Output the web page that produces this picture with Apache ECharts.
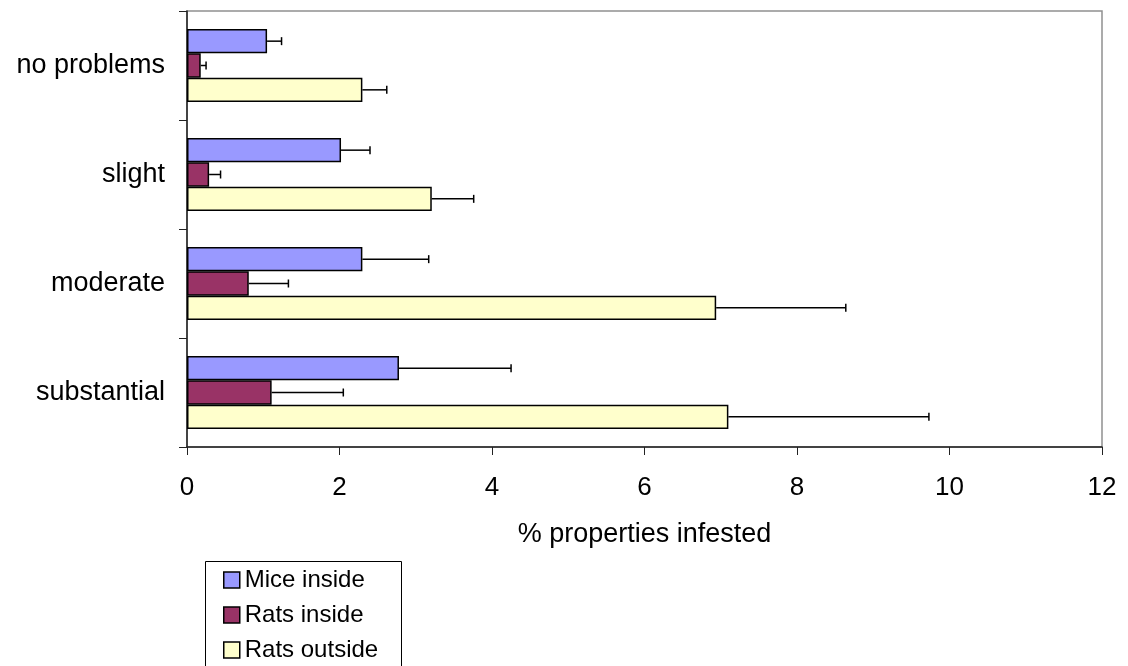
<!DOCTYPE html>
<html>
<head>
<meta charset="utf-8">
<script src="https://cdn.jsdelivr.net/npm/echarts@6/dist/echarts.min.js"></script>
<style>
html,body{margin:0;padding:0;background:#fff;}
#chart{width:1128px;height:666px;}
</style>
</head>
<body>
<div id="chart"></div>
<script>
var categories = ['no problems', 'slight', 'moderate', 'substantial'];
var seriesNames = ['Mice inside', 'Rats inside', 'Rats outside'];
var miceInside = [1.05, 2.02, 2.30, 2.78];
var ratsInside = [0.18, 0.29, 0.81, 1.11];
var ratsOutside = [2.30, 3.21, 6.94, 7.10];
var miceInsideErr = [1.24, 2.40, 3.17, 4.25];
var ratsInsideErr = [0.25, 0.44, 1.33, 2.05];
var ratsOutsideErr = [2.62, 3.76, 8.64, 9.73];
var colors = ['#9999FF', '#993366', '#FFFFCC'];

var values = [miceInside, ratsInside, ratsOutside];
var errs = [miceInsideErr, ratsInsideErr, ratsOutsideErr];
var catGap = 0.33;

var errData = [];
for (var s = 0; s < 3; s++) {
  for (var c = 0; c < categories.length; c++) {
    errData.push([values[s][c], c, errs[s][c], s]);
  }
}

var font = 'Liberation Sans, Arial, sans-serif';
var series = [];
for (var i = 0; i < 3; i++) {
  series.push({
    name: seriesNames[i],
    type: 'bar',
    data: values[i],
    barGap: '0%',
    barCategoryGap: '33%',
    itemStyle: { color: colors[i], borderColor: '#000', borderWidth: 1.5 },
    z: 2
  });
}
series.push({
  type: 'custom',
  name: 'err',
  data: errData,
  z: 3,
  silent: true,
  encode: { x: [0, 2], y: 1 },
  renderItem: function (params, api) {
    var v = api.value(0), cat = api.value(1), e = api.value(2), s = api.value(3);
    var center = api.coord([v, cat]);
    var band = api.size([0, 1])[1];
    var barW = band * (1 - catGap) / 3;
    var y = center[1] - band * (1 - catGap) / 2 + barW * s + barW / 2;
    var end = api.coord([e, cat]);
    var st = { stroke: '#000', lineWidth: 1.5 };
    return {
      type: 'group',
      children: [
        { type: 'line', shape: { x1: center[0], y1: y, x2: end[0], y2: y }, style: st },
        { type: 'line', shape: { x1: end[0], y1: y - 4, x2: end[0], y2: y + 4 }, style: st }
      ]
    };
  }
});

var chart = echarts.init(document.getElementById('chart'));
chart.setOption({
  animation: false,
  backgroundColor: '#fff',
  textStyle: { fontFamily: font },
  grid: {
    left: 187, right: 26, top: 11, bottom: 219,
    show: true, borderColor: '#909090', borderWidth: 1.5, backgroundColor: 'transparent'
  },
  graphic: [{
    type: 'rect',
    shape: { x: 205.5, y: 561.5, width: 196, height: 120 },
    style: { fill: 'none', stroke: '#000', lineWidth: 1 },
    z: 0
  }],
  xAxis: {
    type: 'value',
    min: 0, max: 12, interval: 2,
    name: '% properties infested',
    nameLocation: 'middle',
    nameGap: 74,
    nameTextStyle: { fontSize: 27, color: '#000', fontFamily: font },
    axisLine: { show: true, lineStyle: { color: '#222', width: 1.5 } },
    axisTick: { show: true, length: 8, lineStyle: { color: '#222', width: 1 } },
    axisLabel: { fontSize: 26, color: '#000', margin: 28, fontFamily: font },
    splitLine: { show: false }
  },
  yAxis: {
    type: 'category',
    data: categories,
    inverse: true,
    axisLine: { show: true, lineStyle: { color: '#222', width: 1.5 } },
    axisTick: { show: true, length: 8, lineStyle: { color: '#222', width: 1 } },
    axisLabel: { fontSize: 27, color: '#000', margin: 22, fontFamily: font },
    splitLine: { show: false }
  },
  legend: {
    orient: 'vertical',
    left: 205, top: 562,
    data: seriesNames,
    icon: 'rect',
    itemWidth: 16, itemHeight: 16,
    itemGap: 11,
    padding: [6, 18, 0, 18],
    borderWidth: 0,
    itemStyle: { borderColor: '#000', borderWidth: 1.5 },
    textStyle: { fontSize: 24, color: '#000', lineHeight: 24, fontFamily: font }
  },
  series: series
});
</script>
</body>
</html>
